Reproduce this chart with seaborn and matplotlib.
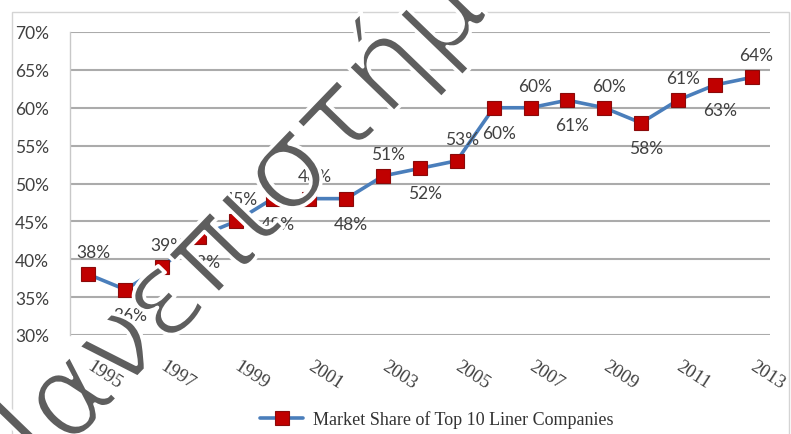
import matplotlib
matplotlib.use("Agg")
import matplotlib.pyplot as plt
import matplotlib.patheffects as pe
from matplotlib.patches import Rectangle
import seaborn as sns
import pandas as pd

# Market share of the top 10 liner companies, per year (%)
years = [1995, 1996, 1997, 1998, 1999, 2000, 2001, 2002, 2003, 2004,
         2005, 2006, 2007, 2008, 2009, 2010, 2011, 2012, 2013]
share = [38, 36, 39, 43, 45, 48, 48, 48, 51, 52,
         53, 60, 60, 61, 60, 58, 61, 63, 64]
series_name = "Market Share of Top 10 Liner Companies"
year_ticks = [1995, 1997, 1999, 2001, 2003, 2005, 2007, 2009, 2011, 2013]
pct_ticks = [30, 35, 40, 45, 50, 55, 60, 65, 70]

df = pd.DataFrame({"Year": years, "Share": share})

sns.set_theme(style="white")
plt.rcParams["font.family"] = ["Lato", "DejaVu Sans"]

W, H = 791, 435
fig = plt.figure(figsize=(W / 100, H / 100), dpi=100)
fig.patch.set_facecolor("white")

# chart-area frame
fig.patches.append(Rectangle((12 / W, -0.05), (789 - 12) / W, 1.05 - 13 / H,
                             transform=fig.transFigure, fill=False,
                             edgecolor="#d4d4d4", linewidth=1.0, zorder=0))

ax = fig.add_axes([70 / W, 1 - 336 / H, 700 / W, (336 - 33) / H])
ax.set_facecolor("white")

sns.lineplot(data=df, x="Year", y="Share", ax=ax, color="#4a7ebb",
             linewidth=2.6, marker="s", markersize=9.5,
             markerfacecolor="#c00000", markeredgecolor="#8a0a0a",
             markeredgewidth=0.8, label=series_name, zorder=3)

ax.set_xlim(1994.5, 2013.5)
ax.set_ylim(30, 70)
ax.set_yticks(pct_ticks)
ax.set_yticklabels([f"{v}%" for v in pct_ticks])
ax.set_xticks(year_ticks)
ax.set_xticklabels([str(y) for y in year_ticks])
ax.set_xlabel("")
ax.set_ylabel("")

ax.yaxis.grid(True, color="#ababab", linewidth=1.5)
ax.xaxis.grid(False)
for s in ["top", "right", "bottom"]:
    ax.spines[s].set_visible(False)
ax.spines["left"].set_color("#c8c8c8")
ax.spines["left"].set_linewidth(1.0)

ax.tick_params(axis="y", length=5, width=1.5, color="#ababab", pad=10,
               labelsize=12.5, labelcolor="#404040")
ax.tick_params(axis="x", length=0, pad=21, labelsize=13.5, labelcolor="#404040")
for lab in ax.get_xticklabels():
    lab.set_fontfamily(["Liberation Serif", "DejaVu Serif"])
    lab.set_rotation(-33)
    lab.set_ha("left")
    lab.set_va("center")
    lab.set_rotation_mode("anchor")

# value labels, alternating above and below the markers
for i, (x, v) in enumerate(zip(years, share)):
    dy = 16 if i % 2 == 0 else -18
    ax.annotate(f"{v}%", (x, v), xytext=(3.6, dy), textcoords="offset points",
                ha="center", va="center", fontsize=12.5, color="#404040",
                zorder=4)

leg = ax.legend(loc="center", bbox_to_anchor=(437 / W, 1 - 420 / H),
                bbox_transform=fig.transFigure, frameon=False,
                handlelength=2.4, handletextpad=0.55,
                prop={"family": ["Liberation Serif", "DejaVu Serif"], "size": 13})
for t in leg.get_texts():
    t.set_color("#333333")

# diagonal watermark: grey glyphs thinned by a white outline
fig.text(262 / W, 1 - 200 / H, "Πανεπιστήμιο", rotation=46,
         rotation_mode="anchor", ha="center", va="center",
         fontsize=84, color="#5e5e5e",
         family=["DejaVu Sans"], zorder=10,
         path_effects=[pe.Stroke(linewidth=2.6, foreground="white")])

fig.savefig("out.png", dpi=100, facecolor="white")
